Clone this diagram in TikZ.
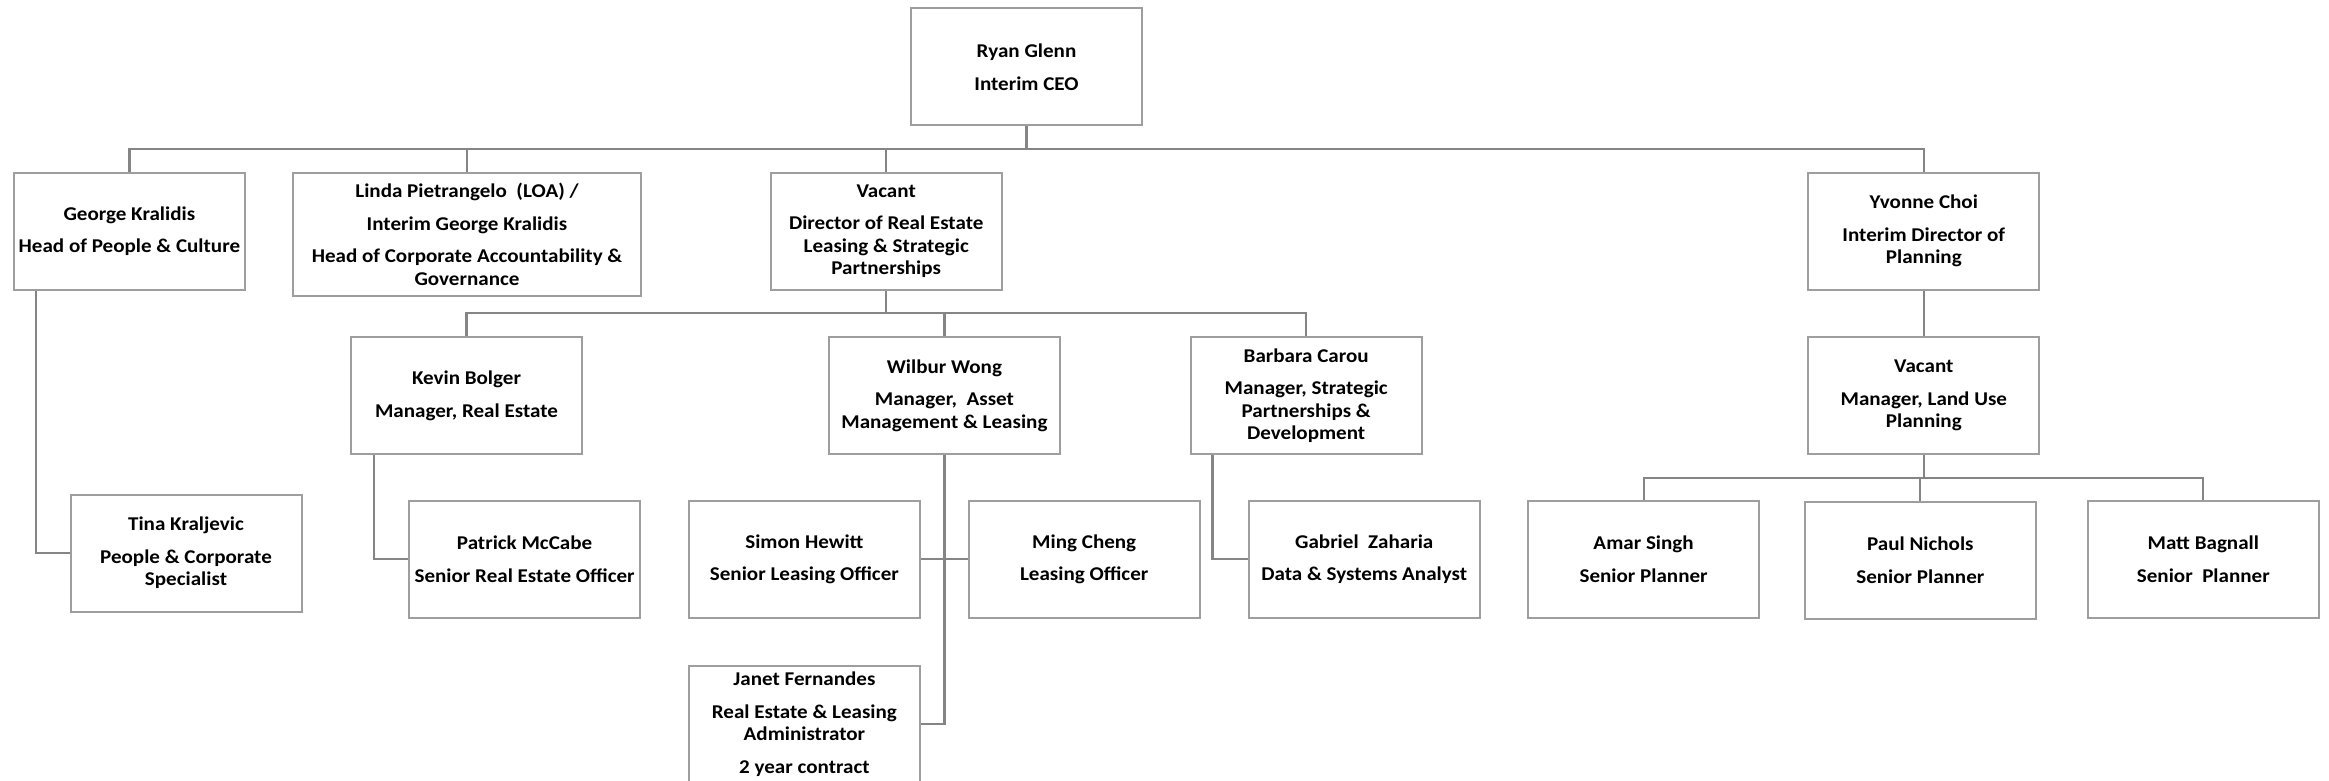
\documentclass[tikz,border=0pt]{standalone}
\usepackage{fontspec}
\setmainfont{Carlito}[FakeStretch=1.08]
\begin{document}
\begin{tikzpicture}[x=1pt,y=-1pt,
  box/.style={draw=black!38, line width=2pt, fill=white, align=center,
    minimum width=231pt, minimum height=117pt, inner sep=2pt,
    font=\fontsize{19.5}{22.5}\selectfont\bfseries},
  link/.style={draw=black!48, line width=2.2pt}]
\useasboundingbox (0,0) rectangle (2329,781);
% nodes
\node[box] (ceo) at (1026.5,67) {Ryan Glenn\\[10pt]Interim CEO};
\node[box] (george) at (129.4,231) {George Kralidis\\[10pt]Head of People \& Culture};
\node[box, minimum width=348pt, minimum height=123pt] (linda) at (467,234.2) {Linda Pietrangelo\ \ (LOA) /\\[10pt]Interim George Kralidis\\[10pt]Head of Corporate Accountability \&\\Governance};
\node[box] (dir) at (886.2,231) {Vacant\\[10pt]Director of Real Estate\\Leasing \& Strategic\\Partnerships};
\node[box] (yvonne) at (1923.8,231) {Yvonne Choi\\[10pt]Interim Director of\\Planning};
\node[box] (kevin) at (466.5,395.7) {Kevin Bolger\\[10pt]Manager, Real Estate};
\node[box] (wilbur) at (944.4,395.7) {Wilbur Wong\\[10pt]Manager,\ \ Asset\\Management \& Leasing};
\node[box] (barbara) at (1306.2,395.7) {Barbara Carou\\[10pt]Manager, Strategic\\Partnerships \&\\Development};
\node[box] (vmgr) at (1923.8,395.7) {Vacant\\[10pt]Manager, Land Use\\Planning};
\node[box] (tina) at (186,553) {Tina Kraljevic\\[10pt]People \& Corporate\\Specialist};
\node[box] (patrick) at (524.6,559.3) {Patrick McCabe\\[10pt]Senior Real Estate Officer};
\node[box] (simon) at (804.4,559.3) {Simon Hewitt\\[10pt]Senior Leasing Officer};
\node[box] (ming) at (1084.2,559.3) {Ming Cheng\\[10pt]Leasing Officer};
\node[box] (gabriel) at (1364.2,559.3) {Gabriel\ \ Zaharia\\[10pt]Data \& Systems Analyst};
\node[box] (amar) at (1643.6,559.3) {Amar Singh\\[10pt]Senior Planner};
\node[box] (paul) at (1920.3,560.3) {Paul Nichols\\[10pt]Senior Planner};
\node[box] (matt) at (2203.3,559.3) {Matt Bagnall\\[10pt]Senior\ \ Planner};
\node[box] (janet) at (804.4,724.3) {Janet Fernandes\\[10pt]Real Estate \& Leasing\\Administrator\\[10pt]2 year contract};
% bus coordinates
\coordinate (busA) at (0,149.3);
\coordinate (busB) at (0,313.3);
\coordinate (busC) at (0,477.7);
% connectors
\draw[link] (ceo.south) -- (ceo.south |- busA);
\draw[link] (george.north) -- (george.north |- busA) -- (yvonne.north |- busA) -- (yvonne.north);
\draw[link] (linda.north) -- (linda.north |- busA);
\draw[link] (dir.north) -- (dir.north |- busA);
\draw[link] (dir.south) -- (dir.south |- busB);
\draw[link] (kevin.north) -- (kevin.north |- busB) -- (barbara.north |- busB) -- (barbara.north);
\draw[link] (wilbur.north) -- (wilbur.north |- busB);
\draw[link] ([xshift=23pt]george.south west) |- (tina.west);
\draw[link] ([xshift=23.7pt]kevin.south west) |- (patrick.west);
\draw[link] ([xshift=22.8pt]barbara.south west) |- (gabriel.west);
\draw[link] (wilbur.south) |- (janet.east);
\draw[link] (simon.east) -- (ming.west);
\draw[link] (yvonne.south) -- (vmgr.north);
\draw[link] (vmgr.south) -- (vmgr.south |- busC);
\draw[link] (amar.north) -- (amar.north |- busC) -- (matt.north |- busC) -- (matt.north);
\draw[link] (paul.north) -- (paul.north |- busC);
\end{tikzpicture}
\end{document}
